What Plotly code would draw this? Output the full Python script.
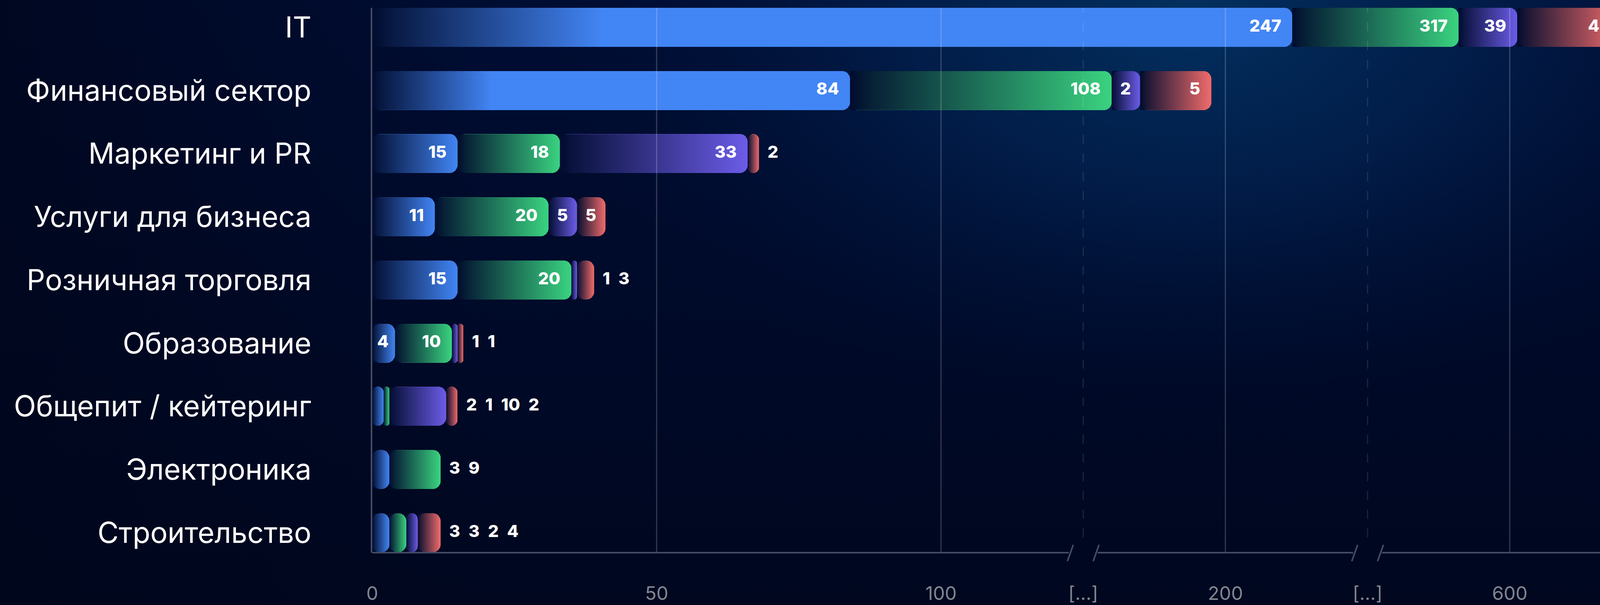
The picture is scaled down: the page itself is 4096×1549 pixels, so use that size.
import base64
import numpy as np
import plotly.graph_objects as go

# ---------------- data ----------------
CATEGORIES = ["IT", "Финансовый сектор", "Маркетинг и PR", "Услуги для бизнеса",
              "Розничная торговля", "Образование", "Общепит / кейтеринг",
              "Электроника", "Строительство"]
BLUE_VALUES = [247, 84, 15, 11, 15, 4, 2, 3, 3]
GREEN_VALUES = [317, 108, 18, 20, 20, 10, 1, 9, 3]
PURPLE_VALUES = [39, 2, 33, 5, 1, 1, 10, 0, 2]
RED_VALUES = [42, 5, 2, 5, 3, 1, 2, 0, 4]
SERIES_VALUES = [BLUE_VALUES, GREEN_VALUES, PURPLE_VALUES, RED_VALUES]

# broken value axis: value -> axis position
SCALE_VALUES = [0, 100, 150, 190, 200, 300, 500, 600, 700]
SCALE_POS = [0, 2, 2.5, 2.5, 3, 3.5, 3.5, 4, 4.87]
TICK_POS = [0, 1, 2, 2.5, 3, 3.5, 4]
TICK_LABELS = ["0", "50", "100", "[...]", "200", "[...]", "600"]
GRID_POS = [1, 2, 3, 4]
BREAK_POS = [2.5, 3.5]

# ---------------- style ----------------
SERIES_RGB = [(66, 133, 244), (58, 211, 128), (108, 92, 232), (240, 107, 107)]
BG_RGB = (1, 12, 46)
W, H = 4096, 1549
ML, MR, MT, MB = 953, 0, 20, 134
PLOT_W = W - ML - MR
PLOT_H = H - MT - MB
PX_PER_POS = 728.0
X_MAX = PLOT_W / PX_PER_POS
Y_MIN, Y_MAX = -0.316, 8.309
BAR_W = 0.618
AXIS_COLOR = "#444c64"
FONT = "Inter"


def pos(v):
    return float(np.interp(v, SCALE_VALUES, SCALE_POS))


def rgb(c, a=1.0):
    return f"rgba({c[0]},{c[1]},{c[2]},{a})"


n = len(CATEGORIES)
row_y = [n - 1 - i for i in range(n)]

fig = go.Figure()

# segments
segments = []  # (series, row, value, d0, d1)
cum = [0] * n
for s, vals in enumerate(SERIES_VALUES):
    for i, v in enumerate(vals):
        if v > 0:
            d0, d1 = pos(cum[i]), pos(cum[i] + v)
            segments.append((s, i, v, d0, d1))
            cum[i] += v

for s in range(len(SERIES_VALUES)):
    seg = [g for g in segments if g[0] == s]
    fig.add_trace(go.Bar(
        orientation="h",
        y=[row_y[g[1]] for g in seg],
        x=[g[4] - g[3] for g in seg],
        base=[g[3] for g in seg],
        width=BAR_W,
        marker=dict(color=rgb(SERIES_RGB[s]), cornerradius=20, line=dict(width=0)),
        hoverinfo="skip", showlegend=False,
    ))

# gradient fade on each segment (from background colour to transparent)
for s, i, v, d0, d1 in segments:
    w_px = (d1 - d0) * PX_PER_POS
    g = (d1 - d0) if w_px <= 800 else 0.25 * (d1 - d0)
    yc = row_y[i]
    y0, y1 = yc - BAR_W / 2, yc + BAR_W / 2
    fig.add_trace(go.Scatter(
        x=[d0, d0 + g, d0 + g, d0, d0], y=[y0, y0, y1, y1, y0],
        mode="lines", line=dict(width=0), fill="toself",
        fillgradient=dict(type="horizontal", start=d0, stop=d0 + g,
                          colorscale=[[0, rgb(BG_RGB, 1)], [0.08, rgb(BG_RGB, 0.9)], [1, rgb(BG_RGB, 0)]]),
        hoverinfo="skip", showlegend=False,
    ))

# value labels
in_x, in_y, in_t = [], [], []
out_x, out_y, out_t = [], [], []
for i in range(n):
    inside_ok = True
    outside = []
    for s, ii, v, d0, d1 in [g for g in segments if g[1] == i]:
        w_px = (d1 - d0) * PX_PER_POS
        txt = str(v)
        if inside_ok and w_px >= 50:
            pad = 28 if w_px >= 90 else max(5, (w_px - 26 * len(txt)) / 2)
            in_x.append(d1 - pad / PX_PER_POS)
            in_y.append(row_y[i])
            in_t.append(txt)
        else:
            inside_ok = False
            outside.append(txt)
    if outside:
        out_x.append(pos(cum[i]) + 22 / PX_PER_POS)
        out_y.append(row_y[i])
        out_t.append("\u2002".join(outside))

label_font = dict(family=FONT, size=43, color="white", weight=800)
fig.add_trace(go.Scatter(x=in_x, y=in_y, text=in_t, mode="text", textposition="middle left",
                         textfont=label_font, hoverinfo="skip", showlegend=False, cliponaxis=True))
fig.add_trace(go.Scatter(x=out_x, y=out_y, text=out_t, mode="text", textposition="middle right",
                         textfont=label_font, hoverinfo="skip", showlegend=False, cliponaxis=True))

# grid lines above bars, broken axis line
shapes = []
for gx in GRID_POS:
    shapes.append(dict(type="line", xref="x", yref="paper", x0=gx, x1=gx, y0=0, y1=1,
                       line=dict(color="rgba(255,255,255,0.2)", width=3), layer="above"))
for bx in BREAK_POS:
    shapes.append(dict(type="line", xref="x", yref="paper", x0=bx, x1=bx, y0=39 / PLOT_H, y1=1,
                       line=dict(color="rgba(255,255,255,0.11)", width=3, dash="23px,25px"), layer="above"))
gap = 37 / PX_PER_POS
edges = [0] + [e for b in BREAK_POS for e in (b - gap, b + gap)] + [X_MAX]
for a, b in zip(edges[0::2], edges[1::2]):
    shapes.append(dict(type="line", xref="x", yref="paper", x0=a, x1=b, y0=0, y1=0,
                       line=dict(color=AXIS_COLOR, width=4), layer="above"))
off = 33 / PX_PER_POS
slant = 7.5 / PX_PER_POS
for bx in BREAK_POS:
    for sgn in (-1, 1):
        cx = bx + sgn * off
        shapes.append(dict(type="line", xref="x", yref="paper",
                           x0=cx - slant, x1=cx + slant, y0=-22 / PLOT_H, y1=20 / PLOT_H,
                           line=dict(color=AXIS_COLOR, width=4), layer="above"))

# background
svg = f'''<svg xmlns="http://www.w3.org/2000/svg" width="{W}" height="{H}" viewBox="0 0 {W} {H}">
<defs>
<linearGradient id="base" x1="0" y1="0" x2="0" y2="1">
<stop offset="0" stop-color="#000d33"/><stop offset="1" stop-color="#00071f"/>
</linearGradient>
<radialGradient id="glow" gradientUnits="userSpaceOnUse" cx="3050" cy="40" r="1700"
 gradientTransform="translate(3050 40) scale(1 0.62) translate(-3050 -40)">
<stop offset="0" stop-color="#03305f" stop-opacity="1"/>
<stop offset="0.45" stop-color="#02214f" stop-opacity="0.75"/>
<stop offset="1" stop-color="#000d33" stop-opacity="0"/>
</radialGradient>
<linearGradient id="left" x1="0" y1="0" x2="1" y2="0">
<stop offset="0" stop-color="#00051a" stop-opacity="0.7"/>
<stop offset="0.3" stop-color="#00051a" stop-opacity="0"/>
</linearGradient>
</defs>
<rect width="{W}" height="{H}" fill="url(#base)"/>
<rect width="{W}" height="{H}" fill="url(#glow)"/>
<rect width="{W}" height="{H}" fill="url(#left)"/>
</svg>'''
bg_src = "data:image/svg+xml;base64," + base64.b64encode(svg.encode()).decode()

fig.update_layout(
    width=W, height=H,
    margin=dict(l=ML, r=MR, t=MT, b=MB, pad=0, autoexpand=False),
    paper_bgcolor="#000a28", plot_bgcolor="rgba(0,0,0,0)",
    barmode="overlay", bargap=0,
    font=dict(family=FONT, color="white"),
    shapes=shapes,
    images=[dict(source=bg_src, xref="paper", yref="paper",
                 x=-ML / PLOT_W, y=1 + MT / PLOT_H, sizex=W / PLOT_W, sizey=H / PLOT_H,
                 xanchor="left", yanchor="top", sizing="stretch", layer="below")],
    xaxis=dict(range=[0, X_MAX], showgrid=False, zeroline=False, showline=False,
               tickvals=TICK_POS, ticktext=TICK_LABELS, ticks="",
               tickfont=dict(family=FONT, size=48, color="#80858f"),
               ticklabelstandoff=72, fixedrange=True),
    yaxis=dict(range=[Y_MIN, Y_MAX], showgrid=False, zeroline=False,
               showline=True, linecolor=AXIS_COLOR, linewidth=4,
               tickvals=row_y, ticktext=CATEGORIES, ticks="",
               tickfont=dict(family=FONT, size=74, color="white"),
               ticklabelstandoff=137, fixedrange=True),
)

fig.write_html("out.html", config={"displayModeBar": False},
               post_script="document.body.style.margin='0';document.body.style.background='#000a28';")
